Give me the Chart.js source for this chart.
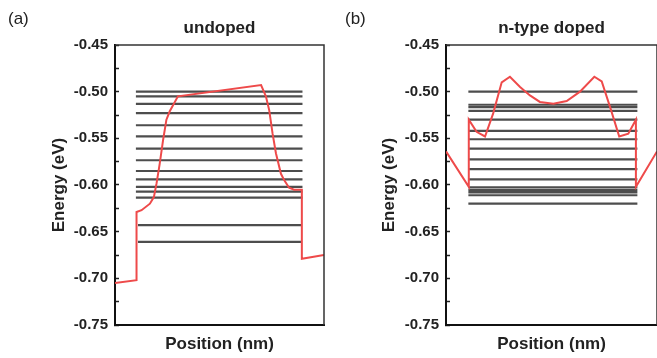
<!DOCTYPE html>
<html>
<head>
<title>Band profiles</title>
<script src="https://cdn.jsdelivr.net/npm/chart.js"></script>
<style>
    body {
        margin: 0;
        width: 657px;
        height: 358px;
        overflow: hidden;
        background: #fff;
        font-family: 'Liberation Sans', Arial, sans-serif;
    }

    canvas {
        position: absolute;
        top: 0;
    }

    .tag {
        position: absolute;
        top: 9px;
        font-size: 17px;
        color: #222;
    }
</style>
</head>
<body>
<canvas id="chartA" width="330" height="358" style="left:0"></canvas>
<canvas id="chartB" width="330" height="358" style="left:330px"></canvas>
<div class="tag" style="left:8px">(a)</div>
<div class="tag" style="left:345px">(b)</div>

<script>
    // y axis labels and minor tick positions
    const energyTickLabels = ['-0.45', '-0.50', '-0.55', '-0.60', '-0.65', '-0.70', '-0.75'];
    const minorTicks = [-0.475, -0.525, -0.575, -0.625, -0.675, -0.725];

    // (a) undoped: band edge profile
    const posA = [0, 10.3, 10.3, 12.7, 16.7, 18.6, 19.9, 21.4, 23, 24.6, 26.2, 30.1,
                  69.9, 72.2, 73.8, 75.4, 77, 79.4, 81, 83.3, 85.7, 89.4, 89.4, 100];
    const bandA = [-0.705, -0.702, -0.629, -0.627, -0.620, -0.613, -0.598, -0.577, -0.552, -0.530, -0.521, -0.505,
                   -0.493, -0.505, -0.520, -0.545, -0.566, -0.588, -0.595, -0.603, -0.605, -0.605, -0.679, -0.675];
    // (a) confined levels
    const levelsA = [-0.500, -0.505, -0.513, -0.523, -0.536, -0.548, -0.561, -0.5735, -0.585,
                     -0.594, -0.602, -0.607, -0.6135];
    const spanA = [10, 89.7];
    const deepLevelsA = [-0.643, -0.661];
    const deepSpanA = [11, 89];

    // (b) n-type doped: band edge profile
    const posB = [0, 10.8, 10.8, 14.5, 18.5, 22.4, 26.4, 30.3, 35.1, 39.8, 44.5, 50.9, 57.2, 63.5,
                  70.3, 73.8, 77.7, 82.1, 86.4, 90.0, 90.0, 100];
    const bandB = [-0.564, -0.602, -0.530, -0.543, -0.548, -0.523, -0.490, -0.484, -0.495, -0.504, -0.511, -0.513, -0.510, -0.500,
                   -0.484, -0.489, -0.516, -0.548, -0.545, -0.530, -0.602, -0.564];
    // (b) confined levels
    const levelsB = [-0.500, -0.514, -0.5165, -0.5205, -0.530, -0.542, -0.551, -0.561, -0.5725, -0.583,
                     -0.594, -0.6025, -0.6055, -0.608, -0.611, -0.620];
    const spanB = [10.6, 90.7];

    Chart.defaults.font.family = "'Liberation Sans', Arial, sans-serif";
    Chart.defaults.color = '#222';

    const allTicks = energyTickLabels.map(Number).concat(minorTicks).sort((a, b) => a - b);

    function levelPoints(groups) {
        const pts = [];
        groups.forEach(([levels, span]) => {
            levels.forEach(e => {
                pts.push({ x: span[0], y: e }, { x: span[1], y: e }, { x: span[1], y: null });
            });
        });
        return pts;
    }

    // thin top/right frame of the plot box
    const framePlugin = {
        id: 'frame',
        afterDraw(chart) {
            const { ctx, chartArea: { left, top, right, bottom } } = chart;
            ctx.save();
            ctx.strokeStyle = '#333';
            ctx.lineWidth = 1.5;
            ctx.beginPath();
            ctx.moveTo(left, top);
            ctx.lineTo(right, top);
            ctx.lineTo(right, bottom);
            ctx.stroke();
            ctx.restore();
        }
    };

    function makeChart(id, title, pos, band, levelGroups, axisWidth, padRight) {
        const ctx = document.getElementById(id).getContext('2d');
        return new Chart(ctx, {
            type: 'scatter',
            data: {
                datasets: [{
                    label: 'band',
                    data: pos.map((x, i) => ({ x: x, y: band[i] })),
                    showLine: true,
                    borderColor: '#ee4a4a',
                    borderWidth: 2,
                    pointRadius: 0,
                    tension: 0
                }, {
                    label: 'levels',
                    data: levelPoints(levelGroups),
                    showLine: true,
                    spanGaps: false,
                    borderColor: '#4d4d4d',
                    borderWidth: 2.2,
                    pointRadius: 0
                }]
            },
            options: {
                responsive: false,
                animation: false,
                layout: { padding: { left: 0, right: padRight, top: 0, bottom: 0 } },
                plugins: {
                    legend: { display: false },
                    tooltip: { enabled: false },
                    title: {
                        display: true,
                        text: title,
                        fullSize: false,
                        color: '#222',
                        font: { size: 17, weight: 'bold' },
                        padding: { top: 18, bottom: 6.6 }
                    }
                },
                scales: {
                    x: {
                        type: 'linear',
                        min: 0,
                        max: 100,
                        afterFit: s => { s.height = 33; },
                        ticks: { display: false },
                        grid: { display: false },
                        border: { display: true, color: '#111', width: 2 },
                        title: {
                            display: true,
                            text: 'Position (nm)',
                            color: '#222',
                            font: { size: 17, weight: 'bold' },
                            padding: { top: 0, bottom: 3 }
                        }
                    },
                    y: {
                        type: 'linear',
                        min: -0.75,
                        max: -0.45,
                        afterBuildTicks: s => { s.ticks = allTicks.map(v => ({ value: v })); },
                        afterFit: s => { s.width = axisWidth; },
                        ticks: {
                            autoSkip: false,
                            padding: 11,
                            color: '#222',
                            font: { size: 15, weight: 'bold' },
                            callback: v => energyTickLabels.find(l => Math.abs(Number(l) - v) < 1e-6) || ''
                        },
                        grid: {
                            display: true,
                            drawOnChartArea: false,
                            drawTicks: true,
                            tickLength: -4,
                            tickColor: '#222',
                            tickWidth: 1.5
                        },
                        border: { display: true, color: '#111', width: 2 },
                        title: {
                            display: true,
                            text: 'Energy (eV)',
                            color: '#222',
                            font: { size: 17, weight: 'bold' },
                            padding: { top: 49, bottom: 0 }
                        }
                    }
                }
            },
            plugins: [framePlugin]
        });
    }

    makeChart('chartA', 'undoped', posA, bandA, [[levelsA, spanA], [deepLevelsA, deepSpanA]], 115, 6);
    makeChart('chartB', 'n-type doped', posB, bandB, [[levelsB, spanB]], 116, 3);
</script>
</body>
</html>
